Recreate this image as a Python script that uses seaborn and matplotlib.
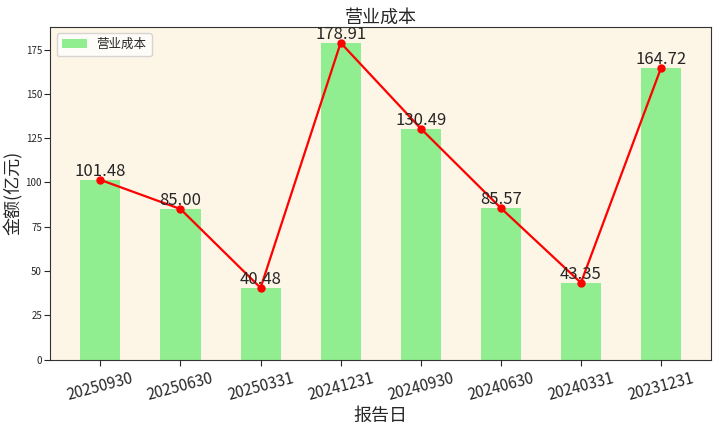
import numpy as np
import pandas as pd
import matplotlib
matplotlib.use("Agg")
import matplotlib.pyplot as plt
import seaborn as sns

dates = ["20250930", "20250630", "20250331", "20241231",
         "20240930", "20240630", "20240331", "20231231"]
costs = [101.48, 85.00, 40.48, 178.91, 130.49, 85.57, 43.35, 164.72]

sns.set_style("ticks")
plt.rcParams["font.family"] = ["Noto Sans CJK SC", "DejaVu Sans"]
plt.rcParams["axes.unicode_minus"] = False

df = pd.DataFrame({"报告日": dates, "营业成本": costs})

fig, ax = plt.subplots(figsize=(7.19, 4.28), dpi=100)
ax.set_facecolor("#FDF5E6")

sns.barplot(data=df, x="报告日", y="营业成本", color="#90EE90", width=0.5,
            saturation=1, linewidth=0, edgecolor="none", ax=ax, label="营业成本")
x = np.arange(len(dates))
ax.plot(x, costs, color="red", marker="o", markersize=5, linewidth=1.6)

for xi, v in zip(x, costs):
    ax.text(xi, v, f"{v:.2f}", ha="center", va="bottom", fontsize=12)

ax.set_xlim(-0.625, len(dates) - 0.375)
ax.set_ylim(0, max(costs) * 1.05)
ax.set_title("营业成本", fontsize=13, pad=3)
ax.set_xlabel("报告日", fontsize=13, labelpad=2)
ax.set_ylabel("金额(亿元)", fontsize=13)
ax.yaxis.set_label_coords(-0.042, 0.5)
ax.tick_params(axis="y", labelsize=7, length=4, pad=2)
ax.tick_params(axis="x", labelsize=11, length=4)
plt.setp(ax.get_xticklabels(), rotation=15)
for s in ax.spines.values():
    s.set_visible(True)
    s.set_color("#333333")
ax.legend(loc="upper left", fontsize=9)

plt.subplots_adjust(left=0.07, right=0.989, top=0.937, bottom=0.16)
plt.savefig("out.png", dpi=100)
